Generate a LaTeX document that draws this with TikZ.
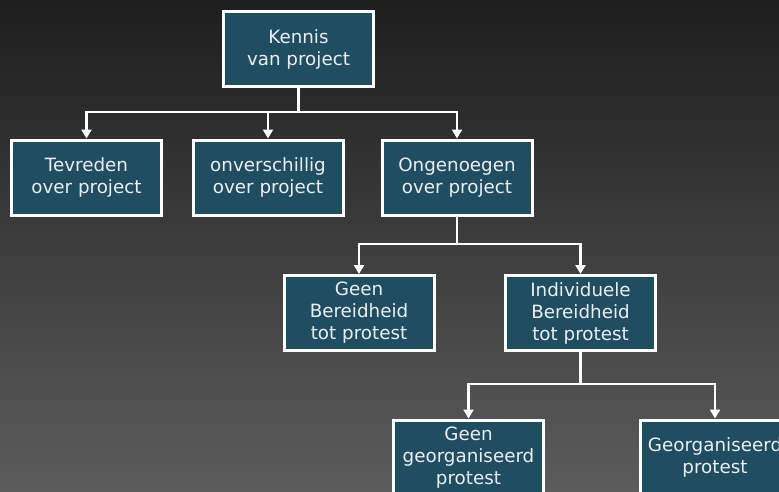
\documentclass[tikz,border=0pt]{standalone}
\usepackage{fontspec}
\setmainfont{DejaVu Sans}
\usetikzlibrary{arrows.meta}
\definecolor{boxfill}{HTML}{1F4D62}
\definecolor{bgtop}{HTML}{1E1E1E}
\definecolor{bgbot}{HTML}{5C5C5C}
\definecolor{txt}{HTML}{EEEEEE}
\tikzset{
  box/.style={draw=white, line width=3pt, fill=boxfill, minimum width=150pt, minimum height=75pt,
    inner sep=0pt, align=center, text=txt, font=\fontsize{18.3}{22}\selectfont},
  conn/.style={draw=white, line width=2.8pt},
  arr/.style={conn, -{Triangle[width=10pt,length=9pt]}}
}
\begin{document}
\begin{tikzpicture}[x=1pt,y=-1pt]
\useasboundingbox (0,0) rectangle (779,491);
\begin{scope}
\clip (0,0) rectangle (779,491);
\shade[top color=bgtop, bottom color=bgbot] (0,0) rectangle (779,491);
\node[box] (kennis) at (298.5,49) {Kennis\\van project};
\node[box] (tev) at (86.5,177.5) {Tevreden\\over project};
\node[box] (onv) at (268,177.5) {onverschillig\\over project};
\node[box] (ong) at (457,177.5) {Ongenoegen\\over project};
\node[box] (geenb) at (359,313) {Geen\\Bereidheid\\tot protest};
\node[box] (ind) at (580.5,313) {Individuele\\Bereidheid\\tot protest};
\node[box] (geeng) at (468.5,457.5) {Geen\\georganiseerd\\protest};
\node[box] (georg) at (715,457.5) {Georganiseerd\\protest};
\coordinate (b1) at (298.5,112);
\coordinate (b2) at (457,244);
\coordinate (b3) at (580.5,384);
\draw[conn] (kennis) -- (b1);
\draw[arr] (b1) -| (tev);
\draw[arr] (b1) -| (onv);
\draw[arr] (b1) -| (ong);
\draw[conn] (ong) -- (b2);
\draw[arr] (b2) -| (geenb);
\draw[arr] (b2) -| (ind);
\draw[conn] (ind) -- (b3);
\draw[arr] (b3) -| (geeng);
\draw[arr] (b3) -| (georg);
\end{scope}
\end{tikzpicture}
\end{document}
